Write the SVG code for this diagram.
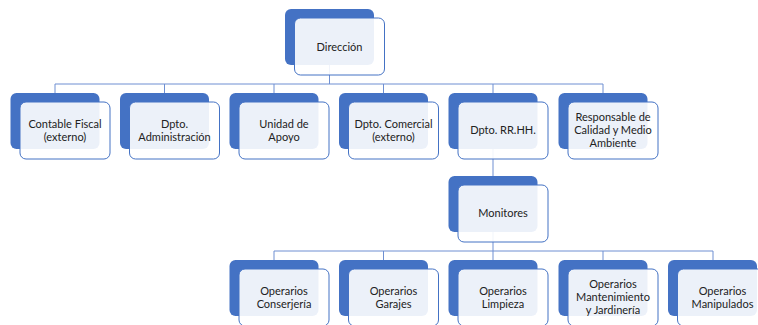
<svg xmlns="http://www.w3.org/2000/svg" width="758" height="325" viewBox="0 0 758 325">
<style>
.bk{fill:#4472C4;}
.fr{fill:#ffffff;fill-opacity:0.9;stroke:#4472C4;stroke-width:1;}
.cn{stroke:#6E8FD2;stroke-width:1;fill:none;}
text{font-family:Lato,"Liberation Sans",sans-serif;font-size:11px;fill:#222;text-anchor:middle;}
</style>
<rect width="758" height="325" fill="#fff"/>
<g id="connectors">
<path class="cn" d="M329.5,65V84M55,84H603M55,84V93M164.5,84V93M274,84V93M383.5,84V93M493,84V93M603,84V93"/>
<path class="cn" d="M493,149V176"/>
<path class="cn" d="M493,232V251M274,251H713M274,251V260M383.5,251V260M493,251V260M603,251V260M713,251V260"/>
</g>
<g id="direccion"><rect class="bk" x="285" y="9" width="89" height="56" rx="6"/><rect class="fr" x="294.5" y="18" width="90" height="57" rx="6"/><text x="339.5" y="50.5">Dirección</text></g>
<g id="contable"><rect class="bk" x="10.5" y="93" width="89" height="56" rx="6"/><rect class="fr" x="20" y="102" width="90" height="57" rx="6"/><text x="65" y="127.5">Contable Fiscal</text><text x="65" y="140.5">(externo)</text></g>
<g id="administracion"><rect class="bk" x="120" y="93" width="89" height="56" rx="6"/><rect class="fr" x="129.5" y="102" width="90" height="57" rx="6"/><text x="174.5" y="127.5">Dpto.</text><text x="174.5" y="140.5">Administración</text></g>
<g id="apoyo"><rect class="bk" x="229.5" y="93" width="89" height="56" rx="6"/><rect class="fr" x="239" y="102" width="90" height="57" rx="6"/><text x="284" y="127.5">Unidad de</text><text x="284" y="140.5">Apoyo</text></g>
<g id="comercial"><rect class="bk" x="339" y="93" width="89" height="56" rx="6"/><rect class="fr" x="348.5" y="102" width="90" height="57" rx="6"/><text x="393.5" y="127.5">Dpto. Comercial</text><text x="393.5" y="140.5">(externo)</text></g>
<g id="rrhh"><rect class="bk" x="448.5" y="93" width="89" height="56" rx="6"/><rect class="fr" x="458" y="102" width="90" height="57" rx="6"/><text x="503" y="134">Dpto. RR.HH.</text></g>
<g id="calidad"><rect class="bk" x="558.5" y="93" width="89" height="56" rx="6"/><rect class="fr" x="568" y="102" width="90" height="57" rx="6"/><text x="613" y="121">Responsable de</text><text x="613" y="134">Calidad y Medio</text><text x="613" y="147">Ambiente</text></g>
<g id="monitores"><rect class="bk" x="448.5" y="176" width="89" height="56" rx="6"/><rect class="fr" x="458" y="185" width="90" height="57" rx="6"/><text x="503" y="217">Monitores</text></g>
<g id="conserjeria"><rect class="bk" x="229.5" y="260" width="89" height="56" rx="6"/><rect class="fr" x="239" y="269" width="90" height="57" rx="6"/><text x="284" y="294.5">Operarios</text><text x="284" y="307.5">Conserjería</text></g>
<g id="garajes"><rect class="bk" x="339" y="260" width="89" height="56" rx="6"/><rect class="fr" x="348.5" y="269" width="90" height="57" rx="6"/><text x="393.5" y="294.5">Operarios</text><text x="393.5" y="307.5">Garajes</text></g>
<g id="limpieza"><rect class="bk" x="448.5" y="260" width="89" height="56" rx="6"/><rect class="fr" x="458" y="269" width="90" height="57" rx="6"/><text x="503" y="294.5">Operarios</text><text x="503" y="307.5">Limpieza</text></g>
<g id="mantenimiento"><rect class="bk" x="558.5" y="260" width="89" height="56" rx="6"/><rect class="fr" x="568" y="269" width="90" height="57" rx="6"/><text x="613" y="288">Operarios</text><text x="613" y="301">Mantenimiento</text><text x="613" y="314">y Jardinería</text></g>
<g id="manipulados"><rect class="bk" x="668" y="260" width="89" height="56" rx="6"/><rect class="fr" x="677.5" y="269" width="90" height="57" rx="6"/><text x="722.5" y="294.5">Operarios</text><text x="722.5" y="307.5">Manipulados</text></g>
</svg>
